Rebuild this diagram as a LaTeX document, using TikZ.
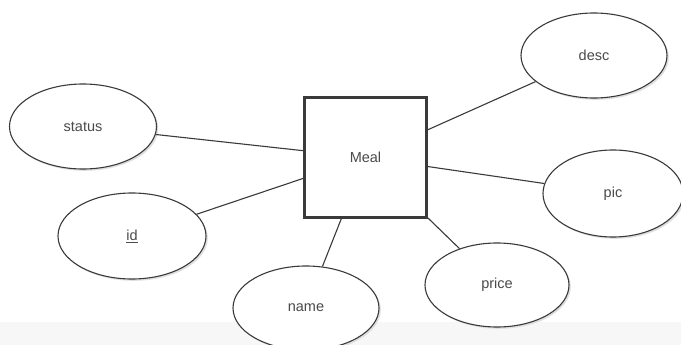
\documentclass[tikz,border=0pt]{standalone}
\usepackage{fontspec}
\setmainfont{Liberation Sans}
\usetikzlibrary{shapes.geometric}
\definecolor{ink}{HTML}{3A3A3A}
\definecolor{txt}{HTML}{4A4A4A}
\begin{document}
\begin{tikzpicture}[x=1pt,y=-1pt,
  attr/.style={ellipse,draw=ink,line width=1.1pt,fill=white,inner sep=0pt,
     font=\fontsize{14.5}{16}\selectfont,text=txt},
  ent/.style={rectangle,draw=ink,line width=2.4pt,fill=white,inner sep=0pt,
     minimum width=122pt,minimum height=120pt,font=\fontsize{14.5}{16}\selectfont,text=txt},
  link/.style={draw=ink,line width=1.1pt}]
\useasboundingbox (0,0) rectangle (681,345);
\clip (0,0) rectangle (681,345);
\fill[white] (0,0) rectangle (681,345);
\fill[gray!6] (0,322) rectangle (681,345);
% shadows
\foreach \cx/\cy/\rx/\ry in {83/126.5/73.5/42.5, 594/55.5/73/42.5, 613/193.5/70/43.5, 132/236/74/43, 497/285/72/42, 306/308/73/42}
  \fill[gray!25] (\cx+1.8,\cy+1.8) ellipse ({\rx} and {\ry});
\node[ent] (meal) at (365.5,157.5) {Meal};
\node[attr,minimum width=147pt,minimum height=85pt] (status) at (83,126.5) {status};
\node[attr,minimum width=146pt,minimum height=85pt] (desc) at (594,55.5) {desc};
\node[attr,minimum width=140pt,minimum height=87pt] (pic) at (613,193.5) {pic};
\node[attr,minimum width=148pt,minimum height=86pt] (id) at (132,236) {\underline{id}};
\node[attr,minimum width=144pt,minimum height=84pt] (price) at (497,285) {price};
\node[attr,minimum width=146pt,minimum height=84pt] (name) at (306,308) {name};
\draw[link] (status) -- (meal);
\draw[link] (id) -- (meal);
\draw[link] (desc) -- (meal);
\draw[link] (pic) -- (meal);
\draw[link] (name) -- (meal);
\draw[link] (price) -- (meal);
\end{tikzpicture}
\end{document}
